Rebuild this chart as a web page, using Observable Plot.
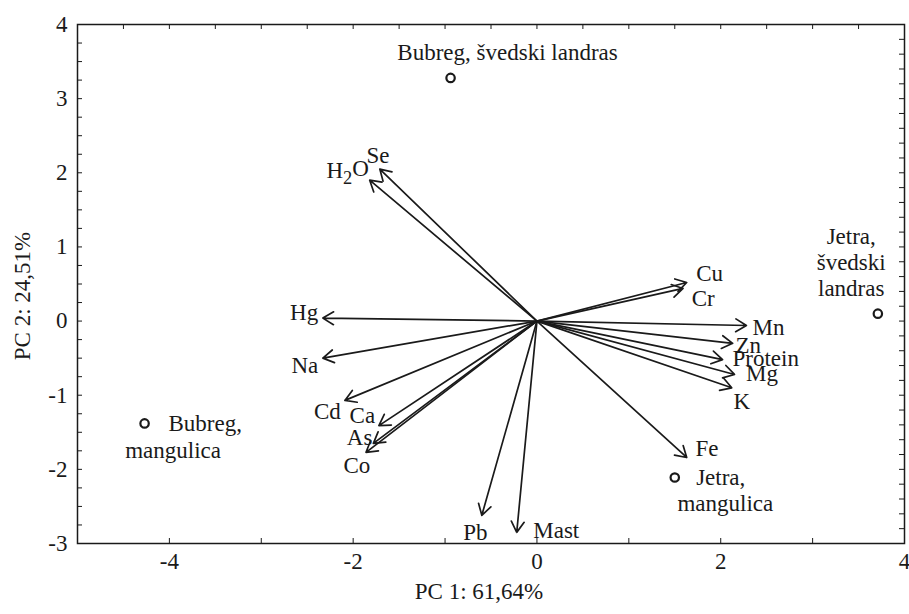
<!DOCTYPE html>
<html><head><meta charset="utf-8">
<script src="https://cdn.jsdelivr.net/npm/d3@7"></script>
<script src="https://cdn.jsdelivr.net/npm/@observablehq/plot@0.6"></script>
<style>body{margin:0;background:#fff}</style>
</head><body><div id="chart"></div>
<script>
// Variable loadings (arrows)
const variables = ["Se","H2O","Hg","Na","Cd","Ca","As","Co","Pb","Mast","Cu","Cr","Mn","Zn","Protein","Mg","K","Fe"];
const loadPC1 = [-1.71,-1.82,-2.33,-2.33,-2.09,-1.72,-1.78,-1.86,-0.60,-0.22,1.63,1.59,2.28,2.13,2.02,2.15,2.12,1.63];
const loadPC2 = [2.05,1.90,0.04,-0.50,-1.07,-1.41,-1.65,-1.77,-2.62,-2.85,0.52,0.44,-0.06,-0.30,-0.52,-0.72,-0.90,-1.84];
// Variable label positions
const varLabelPC1 = [-1.73,-2.06,-2.38,-2.38,-2.28,-1.90,-1.93,-1.96,-0.67,0.21,1.88,1.81,2.52,2.30,2.49,2.45,2.23,1.85];
const varLabelPC2 = [2.23,2.03,0.11,-0.60,-1.22,-1.28,-1.57,-1.95,-2.85,-2.83,0.64,0.30,-0.09,-0.33,-0.50,-0.71,-1.09,-1.72];
const varLabelAnchor = ["middle","middle","end","end","middle","middle","middle","middle","middle","middle","middle","middle","middle","middle","middle","middle","middle","middle"];

// Sample scores (points)
const samples = ["Bubreg, švedski landras","Jetra, švedski landras","Bubreg, mangulica","Jetra, mangulica"];
const scorePC1 = [-0.94, 3.71, -4.27, 1.50];
const scorePC2 = [3.28, 0.10, -1.38, -2.11];
// Sample label lines
const sampleLines = ["Bubreg, švedski landras","Jetra,","švedski","landras","Bubreg,","mangulica","Jetra,","mangulica"];
const sampleLinePC1 = [-0.32, 3.42, 3.42, 3.42, -3.61, -3.96, 2.00, 2.05];
const sampleLinePC2 = [3.62, 1.14, 0.79, 0.44, -1.38, -1.75, -2.11, -2.46];

// Axis ticks
const xTickLabels = [-4,-2,0,2,4];
const yTickLabels = [-3,-2,-1,0,1,2,3,4];
const xTicksBottom = d3.range(-5, 4.001, 1);
const xTicksTop = d3.range(-5, 4.001, 0.5);
const yTicksLeft = d3.range(-3, 4.001, 0.25);
const yTicksRight = d3.range(-3, 4.001, 0.2);
const xTitle = "PC 1: 61,64%";
const yTitle = "PC 2: 24,51%";

const loadings = variables.map((v,i)=>({v, x:loadPC1[i], y:loadPC2[i], lx:varLabelPC1[i], ly:varLabelPC2[i], a:varLabelAnchor[i]}));
const scores = samples.map((s,i)=>({s, x:scorePC1[i], y:scorePC2[i]}));
const lines = sampleLines.map((t,i)=>({t, x:sampleLinePC1[i], y:sampleLinePC2[i]}));

const W = 909, H = 614, mL = 77, mR = 5, mT = 24, mB = 71;
const fw = W - mL - mR, fh = H - mT - mB;
const ink = "#1a1a1a";
const fs = 23;

const chart = Plot.plot({
  width: W, height: H,
  marginLeft: mL, marginRight: mR, marginTop: mT, marginBottom: mB,
  style: {fontFamily: "'Liberation Serif', 'Times New Roman', serif", fontSize: fs + "px", background: "#fff", color: ink},
  x: {domain: [-5, 4]},
  y: {domain: [-3, 4]},
  marks: [
    Plot.arrow(loadings, {x1: 0, y1: 0, x2: "x", y2: "y", stroke: ink, strokeWidth: 1.7, headLength: 11, headAngle: 62}),
    Plot.dot(scores, {x: "x", y: "y", r: 4.2, stroke: ink, strokeWidth: 2.2, fill: "#fff"}),
    Plot.text(loadings.filter(d=>d.a==="middle"), {x: "lx", y: "ly", text: "v", fontSize: fs, fill: ink, textAnchor: "middle"}),
    Plot.text(loadings.filter(d=>d.a==="end"), {x: "lx", y: "ly", text: "v", fontSize: fs, fill: ink, textAnchor: "end"}),
    Plot.text(lines, {x: "x", y: "y", text: "t", fontSize: fs, fill: ink}),
    Plot.frame({stroke: ink, strokeWidth: 1.5}),
    Plot.tickX(xTicksBottom, {x: d=>d, insetTop: fh - 5, stroke: ink}),
    Plot.tickX(xTicksTop, {x: d=>d, insetBottom: fh - 5, stroke: ink}),
    Plot.tickY(yTicksLeft, {y: d=>d, insetRight: fw - 5, stroke: ink}),
    Plot.tickY(yTicksRight, {y: d=>d, insetLeft: fw - 5, stroke: ink}),
    Plot.axisX(xTickLabels, {tickSize: 0, tickPadding: 9, tickFormat: d=>String(d), fontSize: fs, label: null, fill: ink}),
    Plot.axisY(yTickLabels, {tickSize: 0, tickPadding: 10, tickFormat: d=>String(d), fontSize: fs, label: null, fill: ink}),
    Plot.text([xTitle], {frameAnchor: "bottom", dy: 55, dx: -12, text: d=>d, fontSize: fs, fill: ink, textAnchor: "middle"}),
    Plot.text([yTitle], {frameAnchor: "left", rotate: -90, dx: -55, dy: 12, text: d=>d, fontSize: fs, fill: ink, textAnchor: "middle"})
  ]
});
document.getElementById("chart").appendChild(chart);

// Render H2O with a subscript 2
d3.select(chart).selectAll("text").each(function(){
  if (this.textContent === "H2O" && this.children.length === 0) {
    const el = d3.select(this);
    el.text("");
    el.append("tspan").text("H");
    el.append("tspan").attr("dy", "0.35em").attr("font-size", "0.8em").text("2");
    el.append("tspan").attr("dy", "-0.35em").text("O");
  }
});
</script>
</body></html>
